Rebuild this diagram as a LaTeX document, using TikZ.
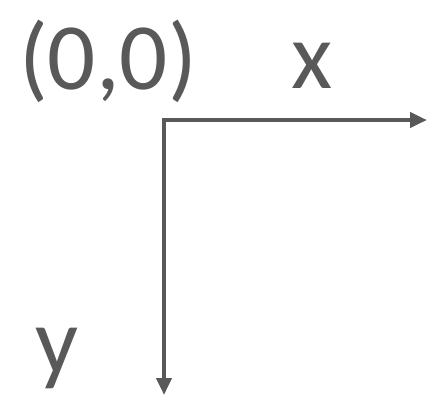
\documentclass[tikz,border=0pt]{standalone}
\usepackage{fontspec}
\setmainfont{Carlito}
\usepackage{tikz}
\usetikzlibrary{arrows.meta}
\definecolor{axisgray}{HTML}{595959}
\tikzset{
  axisline/.style={draw=axisgray, line width=4.3pt, line join=miter, {Triangle[length=17pt, width=15pt]}-{Triangle[length=17pt, width=15pt]}},
  biglabel/.style={text=axisgray, inner sep=0pt, anchor=base}
}
\begin{document}
\begin{tikzpicture}[x=1pt, y=-1pt]
      \useasboundingbox (0,0) rectangle (430,397);
      \coordinate (o) at (164,120);
      \coordinate (xend) at (427,120);
      \coordinate (yend) at (164,395);
      \draw[axisline] (xend) -- (o) -- (yend);
      \node[biglabel, font=\fontsize{95}{95}\selectfont] (orig) at (108,89) {(0,0)};
      \node[biglabel, font=\fontsize{95}{95}\selectfont] (xlab) at (312,88) {x};
      \node[biglabel, font=\fontsize{95}{95}\selectfont] (ylab) at (57,373) {y};
    \end{tikzpicture}
\end{document}
